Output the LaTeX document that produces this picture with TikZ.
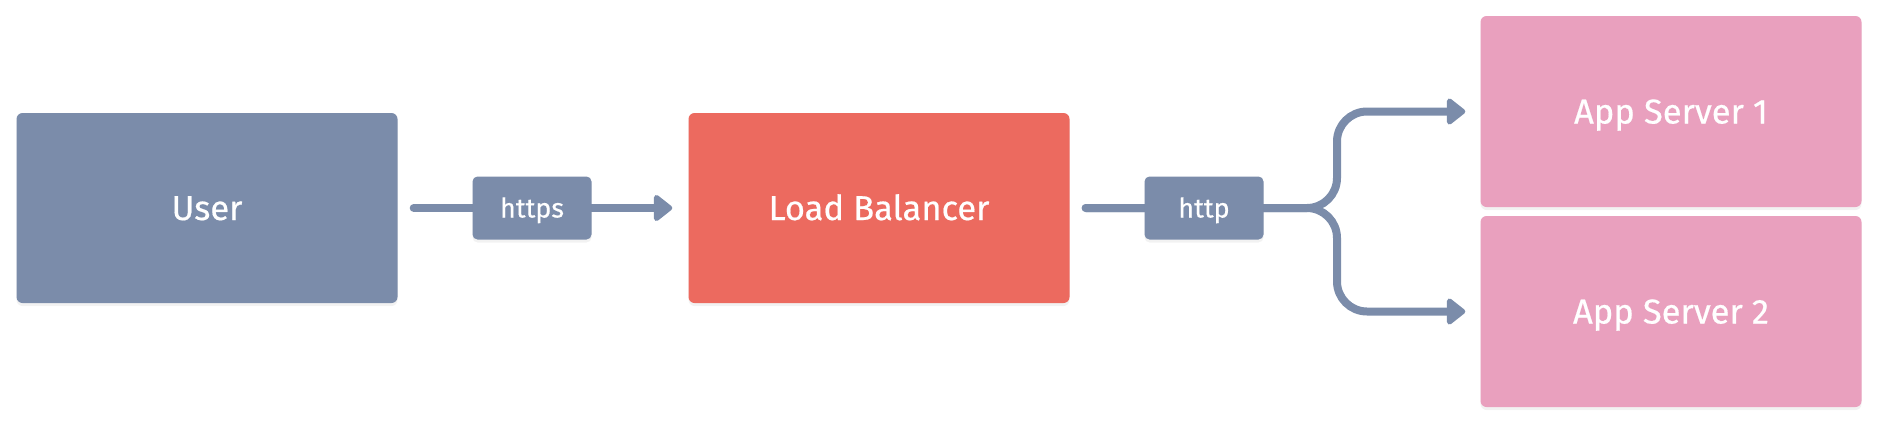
\documentclass[tikz,border=0pt]{standalone}
\usepackage{fontspec}
\setmainfont{Fira Sans}[FakeBold=0.5]
\usetikzlibrary{arrows.meta,shadows}
\definecolor{slate}{HTML}{7B8CAA}
\definecolor{coral}{HTML}{EC6A5F}
\definecolor{rose}{HTML}{E9A0BE}
\begin{document}
\begin{tikzpicture}[x=1pt,y=-1pt,
 box/.style={rounded corners=6pt,minimum width=381pt,minimum height=190pt,text=white,
  font=\fontsize{34.5}{40}\selectfont,text height=24pt,text depth=0pt,
  drop shadow={opacity=0.1,shadow xshift=0pt,shadow yshift=-3pt}},
 tag/.style={fill=slate,rounded corners=5pt,minimum width=119pt,minimum height=63pt,text=white,
  font=\fontsize{27}{30}\selectfont,text height=19pt,text depth=0pt,
  drop shadow={opacity=0.1,shadow xshift=0pt,shadow yshift=-3pt}},
 wire/.style={draw=slate,line width=8pt,line cap=round,rounded corners=30pt},
 a/.style={wire,-{Triangle[length=20pt,width=30pt,round]}}]
\useasboundingbox (0,0) rectangle (1880,424);
\node[box,fill=slate] (user) at (207,208) {User};
\node[box,fill=coral] (lb) at (879,208) {Load Balancer};
\node[box,fill=rose,minimum height=191pt] (app1) at (1671,111.5) {App Server 1};
\node[box,fill=rose,minimum height=191pt] (app2) at (1671,311.5) {App Server 2};
\coordinate (fork) at (1337,208);
\draw[a] ([xshift=16pt]user.east) -- ([xshift=-16pt]lb.west);
\draw[a] ([xshift=16pt]lb.east) -- (fork) |- ([xshift=-15pt]app1.west);
\draw[a] ([xshift=16pt]lb.east) -- (fork) |- ([xshift=-15pt]app2.west);
\node[tag] (https) at (532,208) {https};
\node[tag] (http) at (1204,208) {http};
\end{tikzpicture}
\end{document}
